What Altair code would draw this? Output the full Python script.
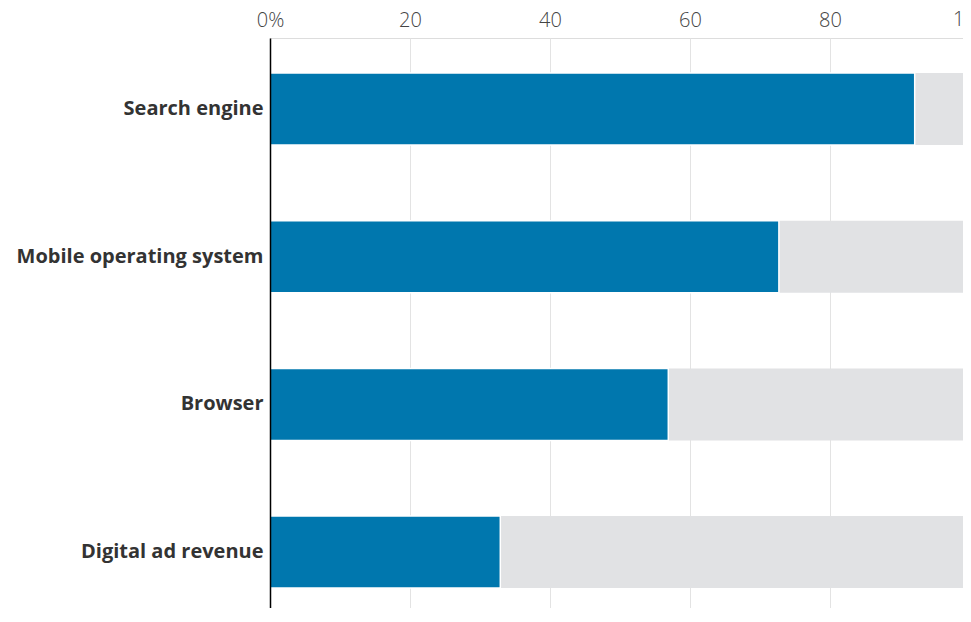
import altair as alt
import pandas as pd

categories = ["Search engine", "Mobile operating system", "Browser", "Digital ad revenue"]
shares = [92.1, 72.7, 56.9, 32.9]
totals = [100, 100, 100, 100]
tick_values = [0, 20, 40, 60, 80]
edge_tick = [100]
edge_label = ["100"]

df = pd.DataFrame({"category": categories, "share": shares, "total": totals})
df_edge = pd.DataFrame({"v": edge_tick, "t": edge_label})

y_enc = alt.Y(
    "category:N",
    sort=categories,
    title=None,
    scale=alt.Scale(paddingInner=0.5125, paddingOuter=0.186, align=0.6375, round=False),
    axis=alt.Axis(
        labelFont="Open Sans",
        labelFontSize=20,
        labelFontWeight="bold",
        labelColor="#333333",
        labelPadding=7,
        labelLimit=0,
        ticks=False,
        domain=True,
        domainColor="#000000",
        domainWidth=1.5,
        grid=False,
        zindex=2,
    ),
)

x_scale = alt.Scale(domain=[0, 100], nice=False, range=[0, 700])

background = alt.Chart(df).mark_bar(color="#e1e2e4").encode(
    x=alt.X(
        "total:Q",
        scale=x_scale,
        title=None,
        axis=alt.Axis(
            orient="top",
            values=tick_values,
            labelExpr="datum.value == 0 ? '0%' : datum.label",
            labelFont="Open Sans",
            labelFontSize=20,
            labelFontWeight=300,
            labelColor="#444444",
            labelPadding=8,
            ticks=False,
            domain=False,
            grid=True,
            gridColor="#e3e3e3",
            gridWidth=1,
            labelOverlap=False,
            labelBound=False,
            labelFlush=False,
        ),
    ),
    y=y_enc,
)

front = alt.Chart(df).mark_bar(color="#0077ae", stroke="#ffffff", strokeWidth=1.5).encode(
    x=alt.X("share:Q", scale=x_scale, title=None),
    y=alt.Y("category:N", sort=categories, title=None),
)

edge = alt.Chart(df_edge).mark_text(
    font="Open Sans",
    fontSize=20,
    fontWeight=300,
    color="#444444",
    align="center",
    baseline="bottom",
).encode(
    x=alt.X("v:Q", scale=x_scale, title=None),
    y=alt.value(-8),
    text="t:N",
)

chart = (
    alt.layer(background, front, edge)
    .properties(
        width=693,
        height=570,
        padding={"left": 262, "top": 30, "right": 0, "bottom": 0},
        autosize=alt.AutoSizeParams(type="none"),
    )
    .configure_view(stroke=None)
    .configure(background="#ffffff")
)

chart.save("out.html", embed_options={"renderer": "svg", "actions": False})
